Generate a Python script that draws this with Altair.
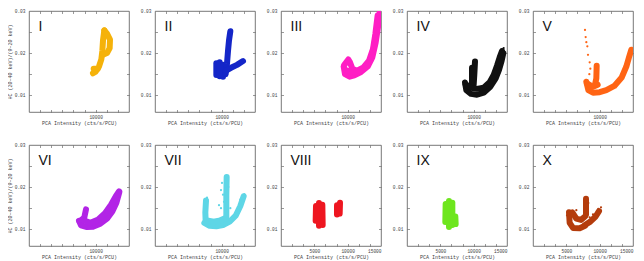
import altair as alt
import pandas as pd

PANELS = ["I", "II", "III", "IV", "V", "VI", "VII", "VIII", "IX", "X"]
COLORS = ["#f5b20a", "#1426c8", "#ff1ec4", "#111111", "#ff6414",
          "#b224e6", "#5ed6e6", "#ee1620", "#6ee61e", "#b43c0c"]

X_TITLE = "PCA Intensity (cts/s/PCU)"
Y_TITLE = "HC (20\u201340 keV)/(9\u201320 keV)"
X_LABELS_TOP = [10000]
X_LABELS_WIDE = [5000, 10000, 15000]
X_TICKS = [1667, 3333, 5000, 6667, 8333, 10000, 11667, 13333]
Y_LABELS = [0.01, 0.02, 0.03]
Y_TICKS = [0.01, 0.015, 0.02, 0.025]

# traced tracks of each panel's point cloud (x = intensity, y = hardness)
S_I = [
    [(9600, 0.0152), (10000, 0.0156), (10500, 0.0168), (10850, 0.0185), (11000, 0.0205), (11100, 0.0230), (11300, 0.0254)],
    [(11300, 0.0254), (11700, 0.0246), (12150, 0.0232), (12100, 0.0212), (11700, 0.0200), (11100, 0.0196)],
    [(9700, 0.0163), (10300, 0.0163)],
]
S_II = [
    [(9200, 0.0176), (9200, 0.0148)],
    [(9700, 0.0178), (9700, 0.0145)],
    [(10200, 0.0172), (10200, 0.0144)],
    [(10600, 0.0150), (10800, 0.0175), (10950, 0.0205), (11100, 0.0230), (11300, 0.0252)],
    [(10600, 0.0158), (11400, 0.0165), (12300, 0.0172), (13200, 0.0181)],
]
S_III = [
    [(9400, 0.0168), (9600, 0.0150), (10300, 0.0144), (11000, 0.0147), (12000, 0.0155), (13000, 0.0168), (13700, 0.0190), (14200, 0.0225), (14550, 0.0262), (14850, 0.0300)],
    [(9500, 0.0172), (10100, 0.0185), (10350, 0.0178), (10700, 0.0163), (11400, 0.0158), (12300, 0.0165), (13200, 0.0182), (13800, 0.0210), (14150, 0.0245), (14500, 0.0290)],
    [(9700, 0.0160), (10600, 0.0154), (11600, 0.0155), (12600, 0.0165), (13400, 0.0183), (13950, 0.0215), (14350, 0.0255)],
]
S_IV = [
    [(10200, 0.0180), (10100, 0.0150), (10000, 0.0125)],
    [(9750, 0.0165), (9750, 0.0128)],
    [(8700, 0.0130), (8900, 0.0112), (9600, 0.0103), (10500, 0.0101), (11500, 0.0106), (12500, 0.0120), (13300, 0.0140), (13800, 0.0160), (14200, 0.0182), (14450, 0.0200)],
    [(8800, 0.0126), (9500, 0.0118), (10500, 0.0115), (11500, 0.0118), (12400, 0.0131), (13000, 0.0148), (13500, 0.0170), (13900, 0.0190), (14250, 0.0205)],
]
S_V = [
    [(9550, 0.0170), (9500, 0.0140), (9300, 0.0125)],
    [(8000, 0.0132), (8300, 0.0112), (9000, 0.0106), (10000, 0.0107), (11000, 0.0112), (12200, 0.0122), (13300, 0.0142), (14000, 0.0168), (14400, 0.0190), (14750, 0.0208)],
    [(8100, 0.0128), (9000, 0.0120), (9700, 0.0125)],
]
S_VI = [
    [(8550, 0.0147), (8300, 0.0128), (7600, 0.0118)],
    [(7500, 0.0120), (7800, 0.0109), (8700, 0.0105), (9600, 0.0106), (10700, 0.0113), (11700, 0.0125), (12500, 0.0142), (13100, 0.0162), (13550, 0.0188)],
    [(8000, 0.0122), (9200, 0.0115), (10300, 0.0122), (11400, 0.0138), (12300, 0.0158), (13000, 0.0178), (13500, 0.0190)],
]
S_VII = [
    [(7650, 0.0168), (7550, 0.0140), (7600, 0.0118)],
    [(7400, 0.0115), (8200, 0.0108), (9200, 0.0107), (10200, 0.0110), (11200, 0.0118), (12100, 0.0132), (12800, 0.0155), (13300, 0.0178)],
    [(7800, 0.0121), (8800, 0.0118), (9800, 0.0121), (10500, 0.0126)],
    [(10700, 0.0125), (10700, 0.0180), (10750, 0.0224)],
]
S_VIII = [
    [(5250, 0.0155), (5200, 0.0120)],
    [(5700, 0.0162), (5700, 0.0108)],
    [(6200, 0.0158), (6250, 0.0110)],
    [(8400, 0.0157), (8400, 0.0135)],
    [(8850, 0.0163), (8800, 0.0137)],
]
S_IX = [
    [(5800, 0.0160), (5750, 0.0117)],
    [(6300, 0.0167), (6300, 0.0105)],
    [(6800, 0.0163), (6800, 0.0110)],
    [(7250, 0.0130), (7300, 0.0112)],
]
S_X = [
    [(5400, 0.0140), (5500, 0.0115), (6000, 0.0103), (7000, 0.0102), (7800, 0.0108)],
    [(5900, 0.0140), (6500, 0.0125), (7200, 0.0122), (7800, 0.0130)],
    [(7950, 0.0172), (7950, 0.0135)],
    [(7800, 0.0110), (8600, 0.0118), (9400, 0.0130), (9900, 0.0143)],
]

# scattered isolated points
D_IV = [(14500, 0.0212), (14350, 0.0209)]
D_V = [(7800, 0.0255), (7900, 0.0238), (8000, 0.0226), (8150, 0.0216), (8250, 0.0196),
       (8500, 0.0178), (8600, 0.0163), (8450, 0.0150)]
D_VII = [(10050, 0.0210), (10200, 0.0182), (9900, 0.0193), (10350, 0.0165), (9600, 0.0157),
         (9900, 0.0150), (11000, 0.0200), (12800, 0.0170), (13400, 0.0183), (11300, 0.0150), (7800, 0.0175)]
D_X = [(10200, 0.0152), (9800, 0.0148), (9000, 0.0135), (5100, 0.0133), (8300, 0.0162),
       (8500, 0.0128), (6500, 0.0145)]

STROKES = [S_I, S_II, S_III, S_IV, S_V, S_VI, S_VII, S_VIII, S_IX, S_X]
DOTS = [[], [], [], D_IV, D_V, [], D_VII, [], [], D_X]

AX_FONT = "Liberation Mono"
AX_COLOR = "#444444"
XS = alt.Scale(domain=[0, 15000], nice=False, zero=False)
YS = alt.Scale(domain=[0.006, 0.03], nice=False, zero=False)


def tick_axis(orient, values):
    return alt.Axis(orient=orient, values=values, labels=False, domain=False,
                    ticks=True, tickSize=2.5, tickWidth=0.6, tickColor="#555555",
                    offset=-2.5, grid=False)


def panel(i):
    name = PANELS[i]
    color = COLORS[i]
    rows = []
    for s, stroke in enumerate(STROKES[i]):
        for k, (x, y) in enumerate(stroke):
            rows.append({"stroke": s, "order": k, "x": x, "y": y})
    lines_df = pd.DataFrame(rows)
    dots_df = pd.DataFrame(DOTS[i], columns=["x", "y"])

    xvals = X_LABELS_WIDE if i >= 7 else X_LABELS_TOP
    main_x = alt.Axis(orient="bottom", values=xvals, format="d", ticks=False,
                      domain=False, grid=False, labelFontSize=4.5, labelPadding=2,
                      labelFont=AX_FONT, labelColor=AX_COLOR, titleFont=AX_FONT,
                      titleFontSize=5, titleFontWeight="normal", titleColor=AX_COLOR,
                      titlePadding=2)
    main_y = alt.Axis(orient="left", values=Y_LABELS, format=".2f", ticks=False,
                      domain=False, grid=False, labelFontSize=4.5, labelPadding=4,
                      labelFont=AX_FONT, labelColor=AX_COLOR, titleFont=AX_FONT,
                      titleFontSize=5, titleFontWeight="normal", titleColor=AX_COLOR,
                      titlePadding=2)
    ytitle = Y_TITLE if i % 5 == 0 else None

    lines = alt.Chart(lines_df).mark_line(
        color=color, strokeWidth=6, strokeCap="round", strokeJoin="round", clip=True
    ).encode(
        x=alt.X("x:Q", scale=XS, axis=main_x, title=X_TITLE),
        y=alt.Y("y:Q", scale=YS, axis=main_y, title=ytitle),
        detail="stroke:N",
        order="order:Q",
    )
    dots = alt.Chart(dots_df).mark_circle(color=color, size=5, opacity=1).encode(
        x=alt.X("x:Q", scale=XS, axis=tick_axis("bottom", X_TICKS), title=None),
        y=alt.Y("y:Q", scale=YS, axis=tick_axis("left", Y_TICKS), title=None),
    )
    ghost = alt.Chart(lines_df).mark_line(opacity=0).encode(
        x=alt.X("x:Q", scale=XS, axis=tick_axis("top", X_TICKS), title=None),
        y=alt.Y("y:Q", scale=YS, axis=tick_axis("right", Y_TICKS), title=None),
        detail="stroke:N",
    )
    label = alt.Chart(pd.DataFrame({"t": [name]})).mark_text(
        align="left", baseline="middle", fontSize=14, font="Liberation Sans", color="#111111"
    ).encode(text="t:N", x=alt.value(9.5), y=alt.value(15.5))

    return alt.layer(lines, dots, ghost, label).resolve_axis(
        x="independent", y="independent"
    ).properties(width=100, height=101)


charts = [panel(i) for i in range(10)]
chart = alt.concat(
    *charts, columns=5, spacing=alt.RowColnumber(row=33, column=26), bounds="flush"
).properties(
    padding={"top": -1, "left": -2, "right": 0, "bottom": 0}
).configure_view(stroke="#555555", strokeWidth=0.8)

chart.save("out.html", embed_options={"renderer": "svg", "actions": False})
